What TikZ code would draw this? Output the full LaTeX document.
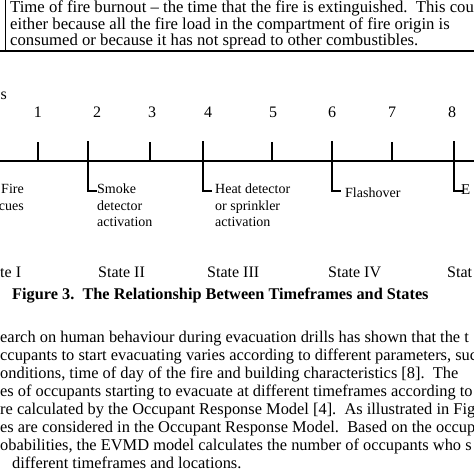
\documentclass[tikz,border=0pt]{standalone}
\usepackage{fontspec}
\setmainfont{Liberation Serif}
\begin{document}
\begin{tikzpicture}[x=1pt,y=-1pt,
  toptxt/.style={anchor=base west,inner sep=0pt,font=\fontsize{16.7}{18}\selectfont},
  bodytxt/.style={anchor=base west,inner sep=0pt,font=\fontsize{16.4}{18}\selectfont},
  lbltxt/.style={anchor=base west,inner sep=0pt,font=\fontsize{14}{16}\selectfont},
  lbltxtr/.style={anchor=base east,inner sep=0pt,font=\fontsize{14}{16}\selectfont},
  numtxt/.style={anchor=base,inner sep=0pt,font=\fontsize{16}{18}\selectfont},
  statetxt/.style={anchor=base west,inner sep=0pt,font=\fontsize{16}{18}\selectfont},
  captxt/.style={anchor=base west,inner sep=0pt,font=\fontsize{16.3}{18}\selectfont\bfseries},
  axisline/.style={line width=1.2pt},
  tickline/.style={line width=1.3pt},
  ruleline/.style={line width=1.8pt},
  borderline/.style={line width=1pt},
]
\useasboundingbox (0,0) rectangle (474,474);
\clip (0,0) rectangle (474,474);
\fill[white] (0,0) rectangle (474,474);

% top box
\coordinate (bTop) at (5,0);
\coordinate (bBot) at (5,51);
\coordinate (rL) at (0,51);
\coordinate (rR) at (474,51);
\draw[borderline] (bTop) -- (bBot);
\draw[ruleline] (rL) -- (rR);
\node[toptxt] (top1) at (10,12) {Time of fire burnout -- the time that the fire is extinguished.\ \ This cou};
\node[toptxt] (top2) at (10,29) {either because all the fire load in the compartment of fire origin is};
\node[toptxt] (top3) at (10,45) {consumed or because it has not spread to other combustibles.};

% axis label end
\node[anchor=base east,inner sep=0pt,font=\fontsize{16}{18}\selectfont] (tfs) at (7,99) {s};

% numbers
\node[numtxt] (n1) at (38,117) {1};
\node[numtxt] (n2) at (97,117) {2};
\node[numtxt] (n3) at (152,117) {3};
\node[numtxt] (n4) at (208,117) {4};
\node[numtxt] (n5) at (273,117) {5};
\node[numtxt] (n6) at (332,117) {6};
\node[numtxt] (n7) at (392,117) {7};
\node[numtxt] (n8) at (452,117) {8};

% axis
\coordinate (axL) at (0,161);
\coordinate (axR) at (474,161);
\draw[axisline] (axL) -- (axR);

% short ticks
\foreach \i/\x in {1/38,3/150,5/272,7/392}{
  \coordinate (t\i) at (\x,142);
  \coordinate (a\i) at (\x,161);
  \draw[tickline] (t\i) -- (a\i);
}
% long ticks with L
\foreach \i/\x in {2/88,4/203,6/332,8/454}{
  \coordinate (t\i) at (\x,141);
  \coordinate (b\i) at (\x,191);
  \coordinate (e\i) at (\x+9,191);
  \draw[tickline] (t\i) -- (b\i) -- (e\i);
}

% event labels
\node[lbltxtr] (fire1) at (24,193) {Fire};
\node[lbltxtr] (fire2) at (24,210) {cues};
\node[lbltxt] (sm1) at (97,193) {Smoke};
\node[lbltxt] (sm2) at (97,210) {detector};
\node[lbltxt] (sm3) at (97,226) {activation};
\node[lbltxt] (ht1) at (215,193) {Heat detector};
\node[lbltxt] (ht2) at (215,210) {or sprinkler};
\node[lbltxt] (ht3) at (215,226) {activation};
\node[lbltxt] (fl) at (345,197) {Flashover};
\node[lbltxt,font=\fontsize{15}{16}\selectfont] (ev) at (461,194) {E};

% states
\node[statetxt] (s1) at (0,277) {te I};
\node[statetxt] (s2) at (98,277) {State II};
\node[statetxt] (s3) at (207,277) {State III};
\node[statetxt] (s4) at (328,277) {State IV};
\node[statetxt] (s5) at (447,277) {Stat};

% caption
\node[captxt] (cap) at (12,299) {Figure 3.\ \ The Relationship Between Timeframes and States};

% paragraph
\node[bodytxt] (p1) at (0,342) {earch on human behaviour during evacuation drills has shown that the t};
\node[bodytxt] (p2) at (0,360) {ccupants to start evacuating varies according to different parameters, suc};
\node[bodytxt] (p3) at (0,378) {onditions, time of day of the fire and building characteristics [8].\ \ The};
\node[bodytxt] (p4) at (0,396) {es of occupants starting to evacuate at different timeframes according to};
\node[bodytxt] (p5) at (0,414) {re calculated by the Occupant Response Model [4].\ \ As illustrated in Fig};
\node[bodytxt] (p6) at (0,432) {es are considered in the Occupant Response Model.\ \ Based on the occup};
\node[bodytxt] (p7) at (0,450) {obabilities, the EVMD model calculates the number of occupants who s};
\node[bodytxt] (p8) at (12,468) {different timeframes and locations.};
\end{tikzpicture}
\end{document}
